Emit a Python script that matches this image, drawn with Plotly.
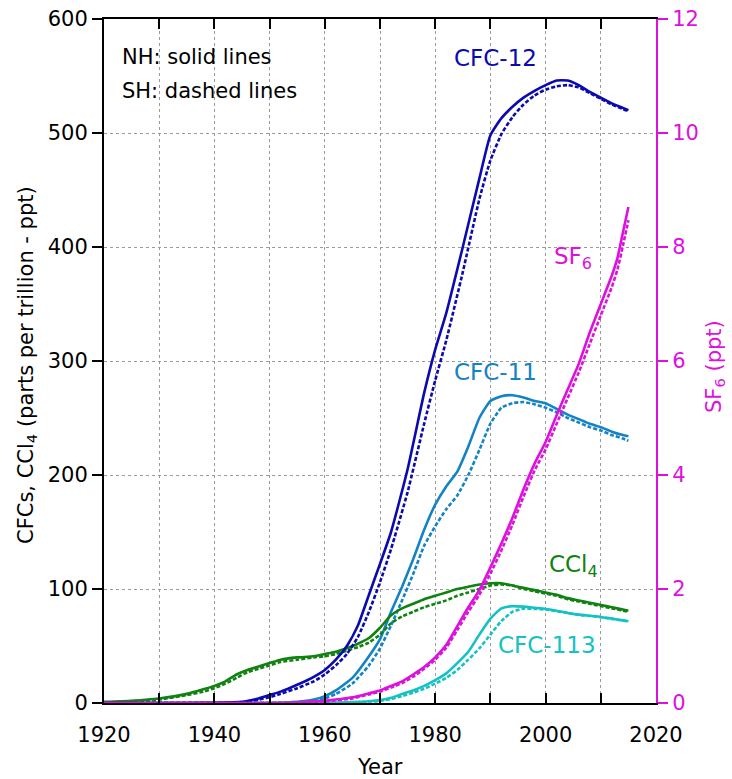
import plotly.graph_objects as go

# ---------------- data ----------------
years_cfc12 = [1920, 1935, 1940, 1945, 1948, 1950, 1952, 1955, 1958, 1960, 1962, 1964, 1966, 1968, 1970, 1972, 1975, 1978, 1980, 1982, 1985, 1988, 1990, 1992, 1994, 1996, 1998, 2000, 2002, 2004, 2006, 2008, 2010, 2012, 2014, 2015]
cfc12_nh = [0, 0, 0.2, 1, 4, 7, 10, 16, 23, 29, 38, 50, 68, 95, 122, 150, 205, 272, 310, 342, 400, 460, 498, 513, 523, 531, 537, 542, 546, 546, 542, 536, 531, 526, 522, 520]
cfc12_sh = [0, 0, 0, 0.5, 3, 5, 8, 13, 19, 25, 33, 43, 58, 80, 106, 135, 185, 245, 283, 318, 378, 442, 476, 499, 514, 525, 533, 538, 541, 542, 540, 535, 530, 525, 521, 519]

years_cfc11 = [1920, 1950, 1955, 1958, 1960, 1962, 1965, 1968, 1970, 1972, 1974, 1976, 1978, 1980, 1982, 1984, 1986, 1988, 1990, 1992, 1994, 1996, 1998, 2000, 2002, 2004, 2006, 2008, 2010, 2012, 2014, 2015]
cfc11_nh = [0, 0, 1, 3, 6, 11, 22, 41, 56, 80, 102, 126, 152, 174, 190, 203, 225, 250, 265, 269, 270, 268, 265, 263, 258, 253, 249, 245, 242, 238, 235, 234]
cfc11_sh = [0, 0, 0.5, 2, 4, 8, 17, 33, 48, 68, 90, 113, 138, 155, 170, 182, 200, 222, 245, 259, 263, 264, 262, 259, 255, 250, 246, 242, 239, 235, 232, 230]

years_ccl4 = [1920, 1925, 1930, 1935, 1938, 1940, 1942, 1944, 1946, 1948, 1950, 1952, 1955, 1958, 1960, 1962, 1964, 1966, 1968, 1970, 1972, 1974, 1976, 1978, 1980, 1982, 1984, 1986, 1988, 1990, 1992, 1994, 1996, 1998, 2000, 2002, 2004, 2006, 2008, 2010, 2012, 2014, 2015]
ccl4_nh = [1, 2, 4, 8, 12, 15, 19, 25, 29, 32, 35, 38, 40, 41, 43, 45, 48, 52, 57, 66, 77, 83, 87, 91, 94, 97, 100, 102, 104, 105, 105, 103, 101, 99, 97, 95, 92, 90, 88, 86, 84, 82, 81]
ccl4_sh = [0.5, 1.5, 3, 7, 10, 13, 17, 22, 27, 30, 33, 36, 38, 40, 41, 43, 46, 49, 53, 60, 70, 76, 80, 84, 87, 90, 94, 97, 100, 103, 104, 103, 100, 98, 96, 94, 91, 89, 87, 85, 83, 81, 80]

years_cfc113 = [1920, 1955, 1960, 1965, 1968, 1970, 1972, 1974, 1976, 1978, 1980, 1982, 1984, 1986, 1988, 1990, 1992, 1994, 1996, 1998, 2000, 2002, 2004, 2006, 2008, 2010, 2012, 2014, 2015]
cfc113_nh = [0, 0, 0.2, 0.8, 1.5, 2.5, 4.5, 8, 11, 15, 20, 26, 35, 45, 60, 74, 83, 85, 84.5, 83.5, 82.5, 81, 79, 77.5, 76.5, 75.5, 74, 72.5, 71.7]
cfc113_sh = [0, 0, 0.1, 0.5, 1.2, 1.8, 3.5, 6, 9, 12.5, 17, 22, 29, 38, 48, 60, 72, 80, 82.8, 82.5, 82, 80.5, 79, 77.3, 76.3, 75.3, 73.8, 72.3, 71.5]

years_sf6 = [1920, 1953, 1955, 1960, 1965, 1968, 1970, 1972, 1974, 1976, 1978, 1980, 1982, 1984, 1986, 1988, 1990, 1992, 1994, 1996, 1998, 2000, 2002, 2004, 2006, 2008, 2010, 2012, 2013, 2014, 2015]
sf6_nh = [0, 0, 0.01, 0.04, 0.1, 0.17, 0.22, 0.3, 0.38, 0.5, 0.63, 0.8, 1.02, 1.35, 1.68, 1.98, 2.38, 2.8, 3.25, 3.75, 4.2, 4.58, 5.05, 5.5, 5.95, 6.5, 7.0, 7.5, 7.8, 8.25, 8.7]
sf6_sh = [0, 0, 0.0, 0.03, 0.08, 0.15, 0.2, 0.27, 0.35, 0.46, 0.6, 0.76, 0.97, 1.28, 1.6, 1.9, 2.27, 2.68, 3.13, 3.62, 4.08, 4.45, 4.9, 5.35, 5.8, 6.3, 6.8, 7.3, 7.6, 8.02, 8.47]

x_ticks = [1920, 1940, 1960, 1980, 2000, 2020]
x_minor = [1930, 1950, 1970, 1990, 2010]
y_ticks = [0, 100, 200, 300, 400, 500, 600]
y2_ticks = [0, 2, 4, 6, 8, 10, 12]

# ---------------- styles ----------------
FONT = "DejaVu Sans"
FS = 21
C12 = "#0a0ab0"
C11 = "#1383c6"
CCL4 = "#0f820f"
C113 = "#14c2c4"
SF6 = "#dd11dd"
LW = 2.6
DASH = "4px,2px"

fig = go.Figure()

def add(x, y, color, dash, axis="y"):
    fig.add_trace(go.Scatter(x=x, y=y, mode="lines", yaxis=axis,
                             line=dict(color=color, width=LW, dash=dash, shape="spline", smoothing=0.5),
                             showlegend=False, hoverinfo="skip"))

add(years_cfc113, cfc113_sh, C113, DASH)
add(years_cfc113, cfc113_nh, C113, "solid")
add(years_sf6, sf6_sh, SF6, DASH, "y2")
add(years_sf6, sf6_nh, SF6, "solid", "y2")
add(years_cfc11, cfc11_sh, C11, DASH)
add(years_cfc11, cfc11_nh, C11, "solid")
add(years_ccl4, ccl4_sh, CCL4, DASH)
add(years_ccl4, ccl4_nh, CCL4, "solid")
add(years_cfc12, cfc12_sh, C12, DASH)
add(years_cfc12, cfc12_nh, C12, "solid")

ann = []
def label(x, y, text, color, size=23):
    ann.append(dict(x=x, y=y, xref="x", yref="y", text=text, showarrow=False,
                    font=dict(family=FONT, size=size, color=color), xanchor="center", yanchor="middle"))

label(1990.9, 566, "CFC-12", C12)
label(2005.0, 390, "SF<sub>6</sub>", SF6)
label(1990.9, 290, "CFC-11", C11)
label(2005.0, 120, "CCl<sub>4</sub>", CCL4)
label(2000.3, 51, "CFC-113", C113)

ann.append(dict(xref="paper", yref="paper", x=0, y=1, xanchor="left", yanchor="middle",
                xshift=16, yshift=-38, text="NH: solid lines", showarrow=False,
                font=dict(family=FONT, size=FS, color="black")))
ann.append(dict(xref="paper", yref="paper", x=0, y=1, xanchor="left", yanchor="middle",
                xshift=16, yshift=-72, text="SH: dashed lines", showarrow=False,
                font=dict(family=FONT, size=FS, color="black")))
# axis titles
ann.append(dict(xref="paper", yref="paper", x=0, y=0.5, xanchor="center", yanchor="middle",
                xshift=-77, yshift=-4, textangle=-90, showarrow=False,
                text="CFCs, CCl<sub>4</sub> (parts per trillion - ppt)",
                font=dict(family=FONT, size=FS, color="black")))
ann.append(dict(xref="paper", yref="paper", x=1, y=0.5, xanchor="center", yanchor="middle",
                xshift=59, yshift=-6, textangle=-90, showarrow=False,
                text="SF<sub>6</sub> (ppt)",
                font=dict(family=FONT, size=FS, color=SF6)))
ann.append(dict(xref="paper", yref="paper", x=0.5, y=0, xanchor="center", yanchor="middle",
                yshift=-64, showarrow=False, text="Year",
                font=dict(family=FONT, size=FS, color="black")))

grid = dict(showgrid=True, gridcolor="#9a9a9a", gridwidth=1, griddash="dot")

fig.update_layout(
    width=732, height=779,
    margin=dict(l=104, r=76, t=19, b=76, autoexpand=False),
    paper_bgcolor="white", plot_bgcolor="white",
    font=dict(family=FONT, size=FS, color="black"),
    annotations=ann,
    xaxis=dict(range=[1920, 2020], tickvals=x_ticks, ticks="inside", ticklen=10, tickwidth=2,
               tickcolor="black", showline=True, linecolor="black", linewidth=2, mirror="ticks",
               zeroline=False, automargin=False, ticklabelstandoff=12,
               tickfont=dict(family=FONT, size=FS), **grid,
               minor=dict(tickvals=x_minor, ticks="inside", ticklen=10,
                          tickwidth=2, tickcolor="black", showgrid=True, gridcolor="#9a9a9a",
                          griddash="dot", gridwidth=1)),
    yaxis=dict(range=[0, 600], tickvals=y_ticks, ticks="outside", ticklen=10, tickwidth=2,
               tickcolor="black", showline=True, linecolor="black", linewidth=2,
               zeroline=False, automargin=False, tickfont=dict(family=FONT, size=FS), **grid),
    yaxis2=dict(range=[0, 12], tickvals=y2_ticks, overlaying="y", side="right",
                ticks="outside", ticklen=10, tickwidth=2, tickcolor=SF6,
                showline=True, linecolor=SF6, linewidth=2, showgrid=False, zeroline=False,
                automargin=False, tickfont=dict(family=FONT, size=FS, color=SF6)),
)

fig.write_html("out.html", config={"displayModeBar": False},
               post_script="document.body.style.margin='0';document.body.style.overflow='hidden';")
